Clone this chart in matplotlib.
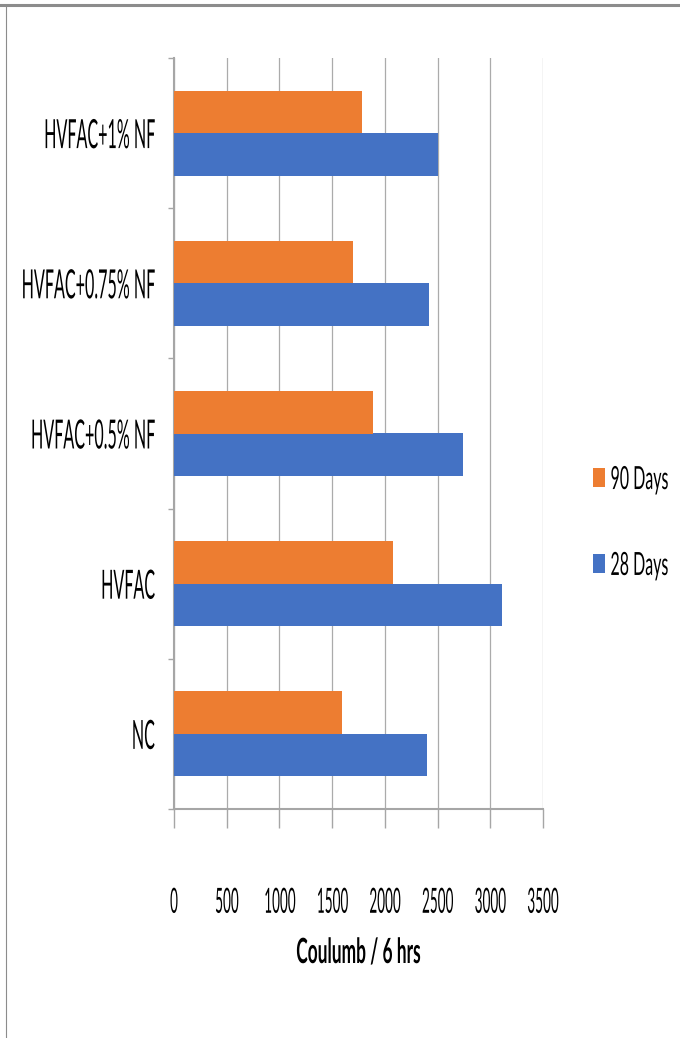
import matplotlib
matplotlib.use("Agg")
import matplotlib.pyplot as plt
import numpy as np
from matplotlib.lines import Line2D
from matplotlib.patches import Patch
from matplotlib.patheffects import AbstractPathEffect
from matplotlib.transforms import Affine2D, Bbox, blended_transform_factory

# chloride penetration, charge passed (Coulomb) over 6 hours
mixes = ["NC", "HVFAC", "HVFAC+0.5% NF", "HVFAC+0.75% NF", "HVFAC+1% NF"]
days_28 = [2400, 3110, 2740, 2420, 2500]
days_90 = [1590, 2075, 1890, 1700, 1780]
xticks = [0, 500, 1000, 1500, 2000, 2500, 3000, 3500]

BLUE = "#4472C4"
ORANGE = "#ED7D31"
AXIS_GREY = "#a6a6a6"
GRID_GREY = "#ababab"

plt.rcParams["font.family"] = ["Lato", "DejaVu Sans"]


def _pivot(x0, x1, anchor):
    return {"left": x0, "right": x1, "center": 0.5 * (x0 + x1)}[anchor]


class Squeeze(AbstractPathEffect):
    """Draw text glyphs horizontally condensed about one edge."""

    def __init__(self, sx, anchor="center"):
        super().__init__()
        self.sx = sx
        self.anchor = anchor

    def draw_path(self, renderer, gc, tpath, affine, rgbFace=None):
        ext = tpath.get_extents(affine)
        px = _pivot(ext.x0, ext.x1, self.anchor)
        squeeze = Affine2D().translate(-px, 0).scale(self.sx, 1).translate(px, 0)
        renderer.draw_path(gc, tpath, affine + squeeze, rgbFace)


def condense(text, sx, anchor):
    """Condense a Text and report its narrowed box as its extent."""
    text.set_path_effects([Squeeze(sx, anchor)])
    full = text.get_window_extent

    def extent(renderer=None, dpi=None):
        bb = full(renderer, dpi)
        px = _pivot(bb.x0, bb.x1, anchor)
        return Bbox.from_extents(px + (bb.x0 - px) * sx, bb.y0,
                                 px + (bb.x1 - px) * sx, bb.y1)

    text.get_window_extent = extent


W, H = 680, 1038
fig = plt.figure(figsize=(W / 100, H / 100), dpi=100)
ax = fig.add_axes([174 / W, 1 - 809 / H, (543 - 174) / W, (809 - 58) / H])

y = np.arange(len(mixes))
bh = 0.283
ax.barh(y - bh / 2, days_28, height=bh, color=BLUE, zorder=3)
ax.barh(y + bh / 2, days_90, height=bh, color=ORANGE, zorder=3)

ax.set_xlim(0, 3500)
ax.set_ylim(-0.5, len(mixes) - 0.5)

ax.set_xticks(xticks, labels=[str(v) for v in xticks])
ax.tick_params(axis="x", which="major", direction="out", length=14,
               width=1.0, color=AXIS_GREY, pad=42, labelsize=25)
for t in ax.get_xticklabels():
    condense(t, 0.39, "center")

# category boundaries carry the tick marks, centres carry the names
ax.set_yticks(np.arange(-0.5, len(mixes), 1.0))
ax.set_yticklabels([])
ax.tick_params(axis="y", which="major", direction="out", length=4,
               width=1.0, color=AXIS_GREY)
ax.set_yticks(y, labels=mixes, minor=True)
ax.tick_params(axis="y", which="minor", length=0, pad=13.5, labelsize=29)
for t in ax.get_yticklabels(minor=True):
    condense(t, 0.40, "right")

ax.grid(axis="x", color=GRID_GREY, linewidth=0.9, zorder=0)
ax.set_axisbelow(True)
for side in ("top", "right"):
    ax.spines[side].set_visible(False)
for side in ("left", "bottom"):
    ax.spines[side].set_color(AXIS_GREY)
    ax.spines[side].set_linewidth(1.5)

xl = ax.set_xlabel("Coulumb / 6 hrs", fontsize=25, fontweight="bold",
                   va="center")
ax.xaxis.set_label_coords(0.5, 1 - 953 / H,
                          transform=blended_transform_factory(ax.transAxes, fig.transFigure))
condense(xl, 0.5, "center")

handles = [Patch(facecolor=ORANGE, label="90 Days"),
           Patch(facecolor=BLUE, label="28 Days")]
leg = fig.legend(handles=handles, loc="center left",
                 bbox_to_anchor=(580 / W, 1 - 523 / H), frameon=False,
                 fontsize=23, handlelength=0.38, handleheight=0.56,
                 handletextpad=0.15, labelspacing=1.75, borderaxespad=0)
for t in leg.get_texts():
    condense(t, 0.5, "left")

# outer frame of the chart area
fig.add_artist(Line2D([0, 1], [1 - 4.5 / H, 1 - 4.5 / H], transform=fig.transFigure,
                      color="#8c8c8c", linewidth=2.2))
fig.add_artist(Line2D([5.5 / W, 5.5 / W], [0, 1 - 4.5 / H], transform=fig.transFigure,
                      color="#8c8c8c", linewidth=0.8))

fig.savefig("out.png", dpi=100)
